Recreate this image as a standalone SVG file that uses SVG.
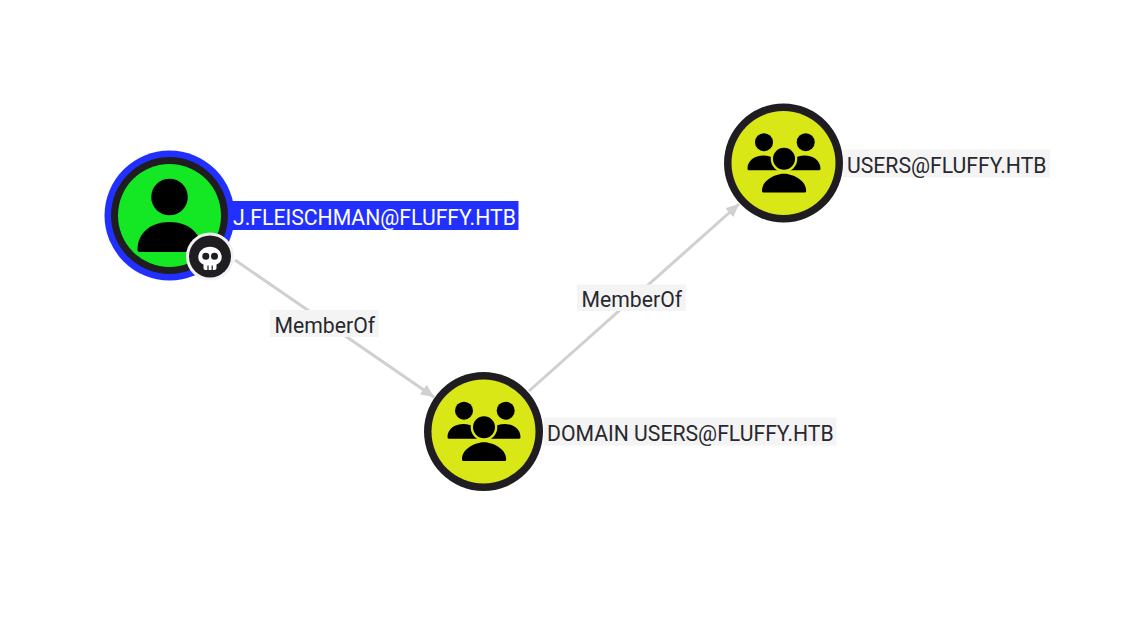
<svg xmlns="http://www.w3.org/2000/svg" width="1135" height="620" viewBox="0 0 1135 620">
<style>
text{font-family:Roboto,"Liberation Sans",sans-serif;font-size:21.2px;fill:#28282e}
.lb{fill:#f4f4f4}
.edge{stroke:#d0d0d0;stroke-width:3;fill:none;marker-end:url(#arr)}
.ring{fill:#1f1d22}
.grp{fill:#d9e716}
</style>
<defs>
<marker id="arr" markerUnits="userSpaceOnUse" markerWidth="14" markerHeight="14" refX="13" refY="6" orient="auto"><path d="M0 0L13 6L0 12Z" fill="#d0d0d0"/></marker>
<g id="groupIcon">
<circle cx="-19.5" cy="-20.8" r="9"/><circle cx="22.2" cy="-20.8" r="9"/>
<path d="M-34.500 7.200a1.500 1.500 0 0 1-1.500-1.500C-36-2.500-29-7.500-20-7.500S-4-2.500-4 5.700a1.500 1.500 0 0 1-1.500 1.500Z"/>
<path d="M7 7.200a1.500 1.500 0 0 1-1.500-1.500C5.500-2.500 12-7.500 21-7.500s16 5 16 13.200a1.500 1.500 0 0 1-1.500 1.500Z"/>
<circle cx="0.500" cy="-4.200" r="13.300" fill="#d9e716"/><circle cx="0.500" cy="-4.200" r="11"/>
<path d="M-20 29.500a1.500 1.500 0 0 1-1.500-1.500C-21.500 17-8 10.800 0.500 10.800S22.700 17 22.700 28a1.500 1.500 0 0 1-1.500 1.500Z"/>
</g>
</defs>
<rect width="1135" height="620" fill="#fff"/>
<g id="connectors">
<path class="edge" d="M235 260L434 397"/>
<path class="edge" d="M529 391L739 204"/>
<rect class="lb" x="270" y="310" width="108.500" height="27"/>
<text x="274.500" y="333">MemberOf</text>
<rect class="lb" x="577" y="284.500" width="109" height="26.500"/>
<text x="581.500" y="307">MemberOf</text>
</g>
<g id="node-jfleischman">
<rect x="225" y="201" width="293.500" height="29" fill="#2230ff"/>
<circle cx="169.500" cy="215.500" r="65" fill="#2230ff"/>
<circle class="ring" cx="169.500" cy="215.500" r="58.500"/>
<circle cx="169.500" cy="215.500" r="51.500" fill="#14e824"/>
<circle cx="169.500" cy="197" r="18.300"/>
<path d="M140 252a2.500 2.500 0 0 1-2.500-2.500C137.500 233 151 222 169.500 222S201.500 233 201.500 249.500a2.500 2.500 0 0 1-2.500 2.500Z"/>
<text x="233" y="225" style="fill:#fff">J.FLEISCHMAN@FLUFFY.HTB</text>
<circle cx="210" cy="256.500" r="24" fill="#f2f2f2"/>
<circle class="ring" cx="210" cy="256.500" r="21"/>
<path fill="#fff" d="M210 246.700c-6.800 0-11.700 4.700-11.700 10.600 0 3.500 1.700 5.700 5.200 7.200v3.500a2 2 0 0 0 2 2h9a2 2 0 0 0 2-2v-3.500c3.500-1.500 5.200-3.700 5.200-7.200 0-5.900-4.900-10.600-11.700-10.600Z"/>
<circle class="ring" cx="205.800" cy="256.300" r="3.500"/><circle class="ring" cx="214.500" cy="256.300" r="3.500"/>
<path d="M208 265.500v4.500M212.200 265.500v4.500" stroke="#1f1d22" stroke-width="1.200"/>
</g>
<g id="node-domain-users">
<circle class="ring" cx="483.500" cy="431.500" r="59.500"/>
<circle class="grp" cx="483.500" cy="431.500" r="52"/>
<use href="#groupIcon" x="483.500" y="431.500"/>
<rect class="lb" x="543.500" y="417.500" width="293" height="28"/>
<text x="547" y="441">DOMAIN USERS@FLUFFY.HTB</text>
</g>
<g id="node-users">
<circle class="ring" cx="783.500" cy="163" r="59.500"/>
<circle class="grp" cx="783.500" cy="163" r="52"/>
<use href="#groupIcon" x="783.500" y="163"/>
<rect class="lb" x="843" y="149.500" width="207" height="28"/>
<text x="847" y="173">USERS@FLUFFY.HTB</text>
</g>
</svg>
